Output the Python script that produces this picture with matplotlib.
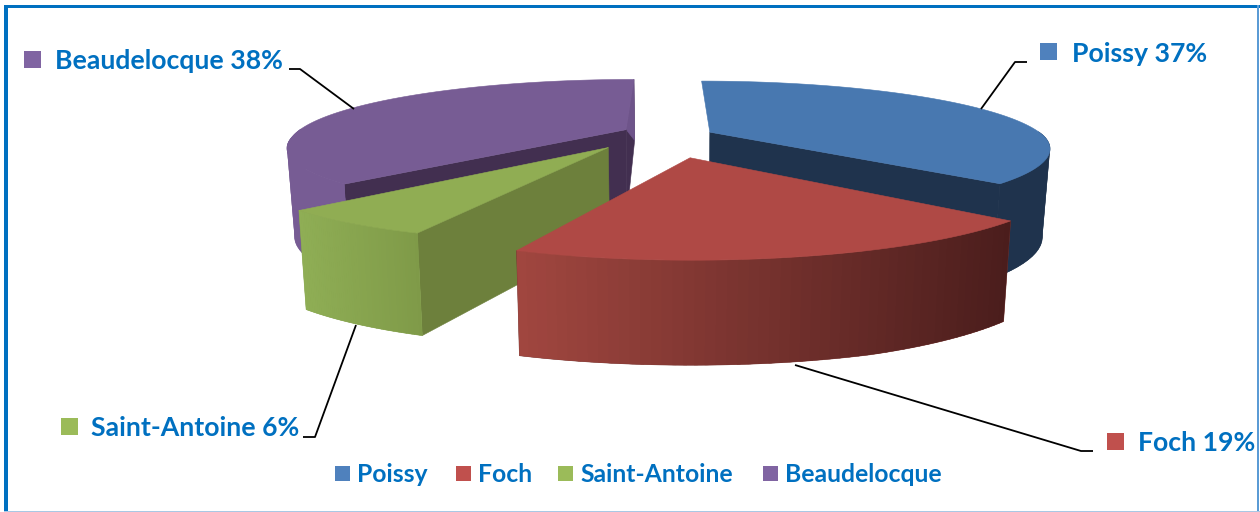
import numpy as np
import matplotlib
matplotlib.use("Agg")
import matplotlib.pyplot as plt
from matplotlib.patches import Polygon, Rectangle

categories = ["Poissy", "Foch", "Saint-Antoine", "Beaudelocque"]
percent = [37, 19, 6, 38]

W, H = 1260, 512
CX, CY, RX, RY, P, SHRINK, SHEAR = 667, 136, 334, 65, 0.24, 0.02, 7
DEPTH_S = [0.8, 1.0, 1.25, 1.42]
DEPTH_PX = [61, 86, 98, 105]
OFFSET = {"Poissy": (0.13, 0.06), "Foch": (0.07, -0.31),
          "Saint-Antoine": (-0.165, -0.17), "Beaudelocque": (-0.125, 0.10)}
TOP = {"Poissy": "#4878b0", "Foch": "#af4945", "Saint-Antoine": "#90ad53", "Beaudelocque": "#775c94"}
MARK = {"Poissy": "#4f81bd", "Foch": "#c0504d", "Saint-Antoine": "#9bbb59", "Beaudelocque": "#8064a2"}
WALL = {"Poissy": ("#1f334d", "#1f334d"), "Foch": ("#a0463f", "#4a1d1c"),
        "Saint-Antoine": ("#8fae55", "#7f9a48"), "Beaudelocque": ("#775c94", "#775c94")}
CUT_START = {"Poissy": None, "Foch": None, "Saint-Antoine": "#6d803c", "Beaudelocque": "#422f50"}
CUT_END = {"Poissy": "#1f334d", "Foch": None, "Saint-Antoine": None, "Beaudelocque": "#422f50"}
TEXT = "#0070c0"
LABEL_POS = {"Poissy": (1040, 53.5, 1072), "Foch": (1107, 443, 1138),
             "Saint-Antoine": (61, 428, 91), "Beaudelocque": (24, 61, 55)}
MARK_Y = {"Poissy": 51.5, "Foch": 441.5, "Saint-Antoine": 426.5, "Beaudelocque": 59.5}
LEADERS = {"Poissy": [(1027, 62), (1015, 62), (981, 109)],
           "Foch": [(1093, 451), (1081, 451), (795, 365)],
           "Saint-Antoine": [(303, 437), (315, 437), (356, 325)],
           "Beaudelocque": [(289, 69), (300, 69), (354, 109)]}
LEGEND_POS = {"Poissy": (335, 357), "Foch": (456, 478),
              "Saint-Antoine": (558, 580), "Beaudelocque": (763, 785)}

plt.rcParams["font.family"] = ["Lato", "DejaVu Sans"]
fig = plt.figure(figsize=(W / 100, H / 100), dpi=100)
ax = fig.add_axes([0, 0, 1, 1])
ax.set_xlim(0, W)
ax.set_ylim(H, 0)
ax.axis("off")


def proj(u, v, z=0.0):
    u, v = np.asarray(u, float), np.asarray(v, float)
    s = 1 / (1 + P * v)
    x = RX * u * s * (1 - SHRINK * z) + SHEAR * np.minimum(v, 0)
    return np.column_stack([CX + x, CY - RY * v * s + np.interp(s, DEPTH_S, DEPTH_PX) * z])


def poly(pts, color, z, edge=True):
    ax.add_patch(Polygon(pts, closed=True, facecolor=color,
                         edgecolor=color if edge else "none",
                         lw=0.4 if edge else 0, zorder=z))


def mix(a, b, t):
    a, b = np.array(matplotlib.colors.to_rgb(a)), np.array(matplotlib.colors.to_rgb(b))
    return a + (b - a) * t


edges = np.cumsum([0] + percent) / sum(percent) * 2 * np.pi
order = ["Poissy", "Beaudelocque", "Saint-Antoine", "Foch"]
layer = 1
for name in order:
    i = categories.index(name)
    a0, a1 = edges[i], edges[i + 1]
    ou, ov = OFFSET[name]
    th = np.linspace(a0, a1, 160)
    au, av = ou + np.sin(th), ov + np.cos(th)
    apex_t, apex_b = proj([ou], [ov], 0), proj([ou], [ov], 1)
    arc_t, arc_b = proj(au, av, 0), proj(au, av, 1)
    if CUT_END[name]:
        poly([arc_t[-1], apex_t[0], apex_b[0], arc_b[-1]], CUT_END[name], layer); layer += 1
    if name == "Beaudelocque":
        poly([arc_t[-1], apex_t[0], arc_b[-1]], "#6e548a", layer); layer += 1
    if CUT_START[name]:
        poly([arc_t[0], apex_t[0], apex_b[0], arc_b[0]], CUT_START[name], layer); layer += 1
    vis = np.where((th > np.pi / 2 - 0.02) & (th < 3 * np.pi / 2 + 0.02))[0]
    if len(vis) > 1:
        x0, x1 = arc_t[vis, 0].min(), arc_t[vis, 0].max()
        ordered = vis[::-1] if arc_t[vis[0], 0] > arc_t[vis[-1], 0] else vis
        step = 1 if ordered is vis else -1
        poly(np.vstack([arc_t[vis], arc_b[vis][::-1]]), mix(*WALL[name], 0.5), layer)
        layer += 1
        for j in ordered[::3]:
            k = min(max(j + 4 * step, vis[0]), vis[-1])
            if j == k:
                continue
            t = (arc_t[j, 0] - x0) / max(x1 - x0, 1)
            poly([arc_t[j], arc_t[k], arc_b[k], arc_b[j]], mix(*WALL[name], t), layer, edge=False)
            layer += 1
    poly(np.vstack([apex_t, arc_t]), TOP[name], layer); layer += 1

z = layer + 1
for name, p in zip(categories, percent):
    mx, my, tx = LABEL_POS[name]
    ax.add_patch(Rectangle((mx, MARK_Y[name] - 8.5), 17, 17, facecolor=MARK[name], edgecolor="none", zorder=z))
    ax.text(tx, my, f"{name} {p}%", color=TEXT, fontsize=19.2, fontweight="bold",
            va="center", ha="left", zorder=z)
    pts = np.array(LEADERS[name])
    ax.plot(pts[:, 0], pts[:, 1], color="black", lw=1.3, zorder=z, solid_capstyle="butt")
    lm, lt = LEGEND_POS[name]
    ax.add_patch(Rectangle((lm, 466), 15, 15, facecolor=MARK[name], edgecolor="none", zorder=z))
    ax.text(lt, 475, name, color=TEXT, fontsize=17.8, fontweight="bold", va="center", ha="left", zorder=z)

ax.add_patch(Rectangle((4, 5), 4, H, facecolor=TEXT, edgecolor="none", zorder=z))
ax.add_patch(Rectangle((4, 5), W - 4, 3, facecolor=TEXT, edgecolor="none", zorder=z))
ax.add_patch(Rectangle((W - 3, 5), 1.5, H, facecolor="#5b9bd5", edgecolor="none", zorder=z))
ax.add_patch(Rectangle((4, H - 1.5), W - 4, 1.5, facecolor="#a9c8e4", edgecolor="none", zorder=z))

fig.savefig("out.png", dpi=100, facecolor="white")
